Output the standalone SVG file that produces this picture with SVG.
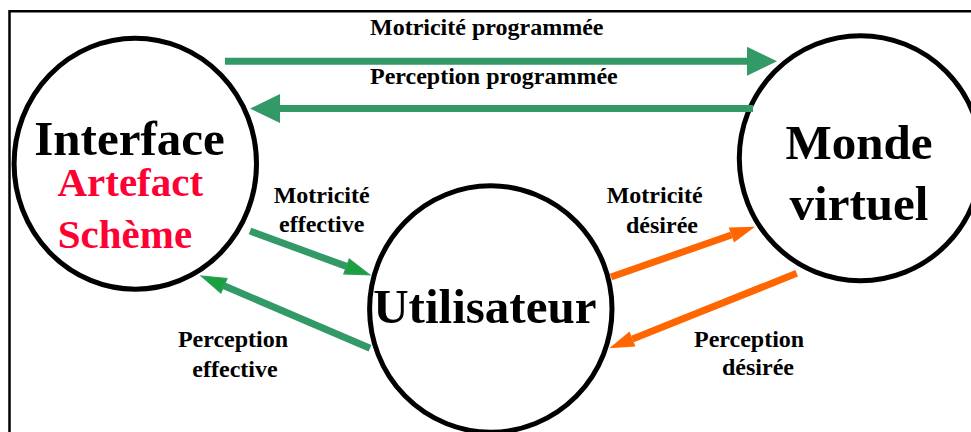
<svg xmlns="http://www.w3.org/2000/svg" width="971" height="432" viewBox="0 0 971 432">
  <style>
    .node { fill: #FFFFFF; stroke: #000000; stroke-width: 5; }
    .big { font-family: "Liberation Serif", "Times New Roman", serif; font-weight: bold; font-size: 49px; fill: #000000; text-anchor: middle; }
    .red { font-family: "Liberation Serif", "Times New Roman", serif; font-weight: bold; font-size: 41px; fill: #FF0033; text-anchor: middle; }
    .lbl { font-family: "Liberation Serif", "Times New Roman", serif; font-weight: bold; font-size: 24px; fill: #000000; }
    .g { stroke: #339966; stroke-width: 7; fill: none; }
    .o { stroke: #FF6600; stroke-width: 7; fill: none; }
  </style>
  <defs>
    <marker id="headBig" markerUnits="userSpaceOnUse" orient="auto" markerWidth="32" markerHeight="30" refX="0" refY="14.5" overflow="visible">
      <path d="M0,0 L30,14.5 L0,29 Z" fill="#339966"/>
    </marker>
    <marker id="headGreen" markerUnits="userSpaceOnUse" orient="auto" markerWidth="27" markerHeight="18" refX="0" refY="8" overflow="visible">
      <path d="M0,0 L25,8 L0,16 Z" fill="#1BA040" stroke="#339966" stroke-width="1"/>
    </marker>
    <marker id="headOrange" markerUnits="userSpaceOnUse" orient="auto" markerWidth="27" markerHeight="18" refX="0" refY="8" overflow="visible">
      <path d="M0,0 L25,8 L0,16 Z" fill="#FF6600"/>
    </marker>
  </defs>

  <rect width="971" height="432" fill="#FFFFFF"/>
  <path d="M9.5,432 V11.2 H971" fill="none" stroke="#000000" stroke-width="2.5"/>

  <g id="node-interface">
    <ellipse class="node" cx="135.3" cy="163.7" rx="121.2" ry="125.5"/>
    <text class="big" x="129.5" y="155">Interface</text>
    <text class="red" x="130.3" y="195.7">Artefact</text>
    <text class="red" x="125" y="247.7">Schème</text>
  </g>

  <g id="node-monde">
    <ellipse class="node" cx="860.5" cy="158.2" rx="121.2" ry="122.5"/>
    <text class="big" x="859" y="159">Monde</text>
    <text class="big" x="859" y="220">virtuel</text>
  </g>

  <g id="node-utilisateur">
    <ellipse class="node" cx="490.8" cy="309" rx="121.2" ry="123.2"/>
    <text class="big" x="484.8" y="323.3">Utilisateur</text>
  </g>

  <g id="connectors">
    <line class="g" x1="225" y1="61.3" x2="747" y2="61.3" marker-end="url(#headBig)"/>
    <line class="g" x1="753" y1="108.6" x2="280" y2="108.6" marker-end="url(#headBig)"/>
    <line class="g" x1="250" y1="231" x2="346.5" y2="266.4" marker-end="url(#headGreen)"/>
    <line class="g" x1="370" y1="348.3" x2="224" y2="285.8" marker-end="url(#headGreen)"/>
    <line class="o" x1="611" y1="277" x2="731.4" y2="234.95" marker-end="url(#headOrange)"/>
    <line class="o" x1="796.7" y1="273.3" x2="632.5" y2="339" marker-end="url(#headOrange)"/>
  </g>

  <g id="labels">
    <text class="lbl" x="370" y="35">Motricité programmée</text>
    <text class="lbl" x="370" y="84">Perception programmée</text>
    <text class="lbl" x="321.7" y="203.3" text-anchor="middle">Motricité</text>
    <text class="lbl" x="321.7" y="231.7" text-anchor="middle">effective</text>
    <text class="lbl" x="233" y="347.3" text-anchor="middle">Perception</text>
    <text class="lbl" x="235" y="376.7" text-anchor="middle">effective</text>
    <text class="lbl" x="606.7" y="203.3">Motricité</text>
    <text class="lbl" x="626" y="233.3">désirée</text>
    <text class="lbl" x="694" y="346.7">Perception</text>
    <text class="lbl" x="722" y="375">désirée</text>
  </g>
</svg>
